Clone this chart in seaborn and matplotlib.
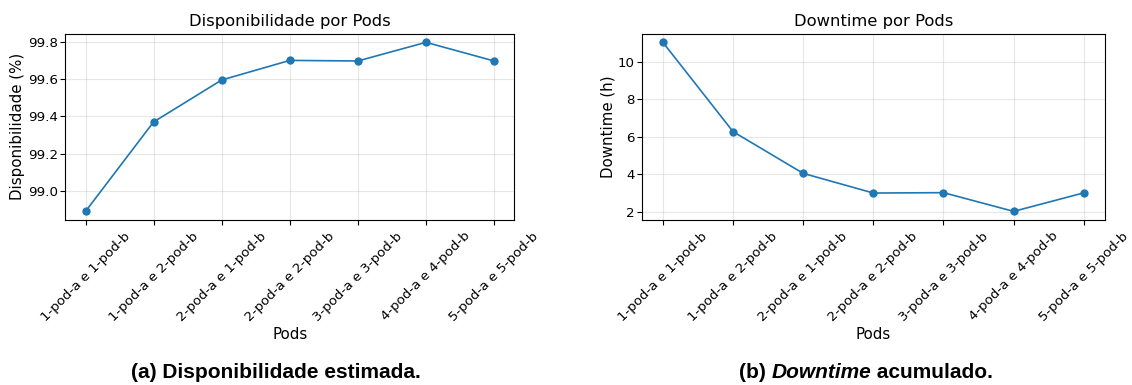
import matplotlib
matplotlib.use('Agg')
import matplotlib.pyplot as plt
import seaborn as sns

# Dados
pods = ['1-pod-a e 1-pod-b', '1-pod-a e 2-pod-b', '2-pod-a e 1-pod-b',
        '2-pod-a e 2-pod-b', '3-pod-a e 3-pod-b', '4-pod-a e 4-pod-b',
        '5-pod-a e 5-pod-b']
disponibilidade = [98.89, 99.37, 99.595, 99.70, 99.697, 99.797, 99.697]
downtime = [11.05, 6.28, 4.05, 3.00, 3.02, 2.02, 3.01]

plt.rcParams['font.family'] = ['DejaVu Sans']

fig = plt.figure(figsize=(11.32, 3.85), dpi=100)
ax1 = fig.add_axes([0.0575, 0.429, 0.397, 0.483])
ax2 = fig.add_axes([0.567, 0.429, 0.409, 0.483])

# Disponibilidade
sns.lineplot(x=pods, y=disponibilidade, marker='o', markersize=6,
             markeredgewidth=0, color='tab:blue', linewidth=1.2, sort=False, ax=ax1)
ax1.set_title('Disponibilidade por Pods', fontsize=11.8)
ax1.set_xlabel('Pods', fontsize=10.8, labelpad=2)
ax1.set_ylabel('Disponibilidade (%)', fontsize=10.8, labelpad=2)
ax1.grid(True, alpha=0.3)

# Downtime
sns.lineplot(x=pods, y=downtime, marker='o', markersize=6,
             markeredgewidth=0, color='tab:blue', linewidth=1.2, sort=False, ax=ax2)
ax2.set_title('Downtime por Pods', fontsize=11.8)
ax2.set_xlabel('Pods', fontsize=10.8, labelpad=2)
ax2.set_ylabel('Downtime (h)', fontsize=10.8, labelpad=2)
ax2.grid(True, alpha=0.3)

for ax in (ax1, ax2):
    ax.tick_params(labelsize=9.6)
    ax.tick_params(axis='y', pad=1.5)
    plt.setp(ax.get_xticklabels(), rotation=45)

# Legendas das subfiguras
cap = {'family': 'Liberation Sans', 'weight': 'bold', 'size': 15}
fig.text(0.2438, 0.018, '(a) Disponibilidade estimada.', ha='center', **cap)

# (b) com "Downtime" em itálico: posiciona as partes uma após a outra
partes = [('(b) ', 'normal'), ('Downtime', 'italic'), (' acumulado.', 'normal')]
fig.canvas.draw()
r = fig.canvas.get_renderer()
textos = [fig.text(0, 0.018, s, style=st, **cap) for s, st in partes]
larguras = [t.get_window_extent(r).width for t in textos]
x = 0.765 * fig.bbox.width - sum(larguras) / 2
for t, w in zip(textos, larguras):
    t.set_x(x / fig.bbox.width)
    x += w

fig.savefig('out.png', dpi=100)
